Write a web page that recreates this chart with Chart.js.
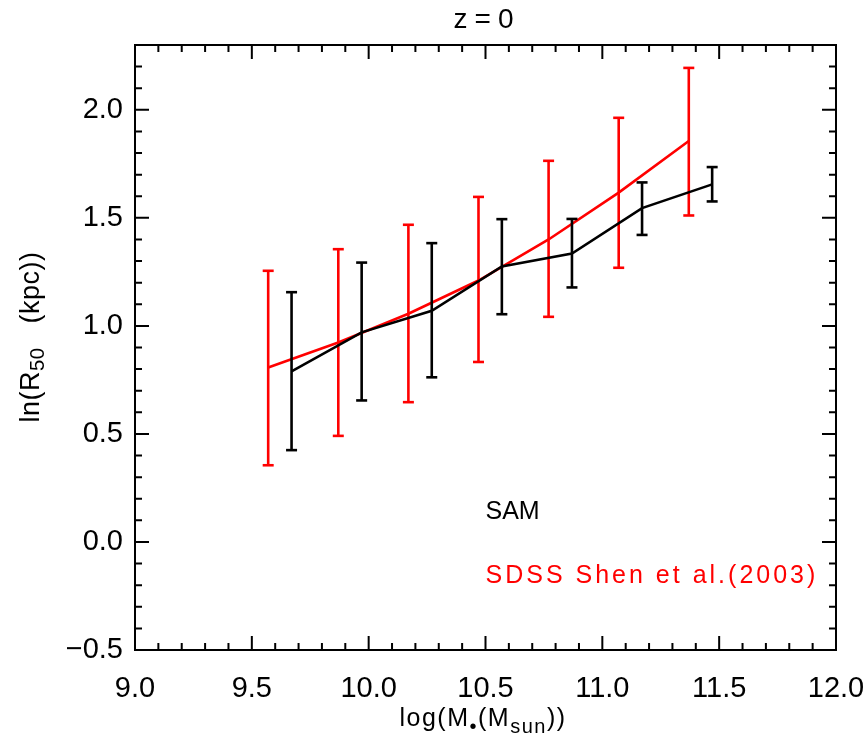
<!DOCTYPE html>
<html>
<head>
<meta charset="utf-8">
<script src="https://cdn.jsdelivr.net/npm/chart.js@4.4.1/dist/chart.umd.min.js"></script>
<style>
  html, body { margin: 0; padding: 0; background: #fff; }
  #wrap { width: 867px; height: 738px; }
</style>
</head>
<body>
<div id="wrap"><canvas id="c"></canvas></div>
<script>
// SAM model (black)
const massSam = [9.67, 9.97, 10.27, 10.57, 10.87, 11.17, 11.47];
const radiusSam = [0.79, 0.97, 1.07, 1.275, 1.335, 1.545, 1.655];
const samLow = [0.425, 0.655, 0.762, 1.054, 1.178, 1.421, 1.576];
const samHigh = [1.156, 1.293, 1.383, 1.494, 1.495, 1.664, 1.735];

// SDSS Shen et al. (2003) (red)
const massSdss = [9.57, 9.87, 10.17, 10.47, 10.77, 11.07, 11.37];
const radiusSdss = [0.807, 0.923, 1.056, 1.21, 1.40, 1.617, 1.856];
const sdssLow = [0.355, 0.491, 0.647, 0.833, 1.042, 1.269, 1.511];
const sdssHigh = [1.255, 1.355, 1.468, 1.597, 1.764, 1.963, 2.194];

const xTicks = [9.0, 9.5, 10.0, 10.5, 11.0, 11.5, 12.0];
const yTicks = [-0.5, 0.0, 0.5, 1.0, 1.5, 2.0];

const FONT = "'Liberation Sans', Arial, sans-serif";
const RED = "#ff0000";

function lineSet(xs, ys, color) {
  return {
    data: xs.map((x, i) => ({ x: x, y: ys[i] })),
    borderColor: color, borderWidth: 2.6, pointRadius: 0, fill: false, tension: 0
  };
}

function errorSets(xs, lo, hi, color) {
  return xs.map((x, i) => ({
    data: [{ x: x, y: lo[i] }, { x: x, y: hi[i] }],
    borderColor: color, borderWidth: 2.6,
    pointStyle: "line", pointRadius: 5.5, pointBorderWidth: 2.6,
    pointBorderColor: color, pointBackgroundColor: color
  }));
}

const datasets = [].concat(
  errorSets(massSam, samLow, samHigh, "#000"),
  [lineSet(massSam, radiusSam, "#000")],
  errorSets(massSdss, sdssLow, sdssHigh, RED),
  [lineSet(massSdss, radiusSdss, RED)]
);

// inward minor/major ticks on all four sides
const tickMarks = {
  id: "tickMarks",
  afterDraw(chart) {
    const ctx = chart.ctx, a = chart.chartArea;
    const sx = chart.scales.x, sy = chart.scales.y;
    ctx.save();
    ctx.strokeStyle = "#000";
    ctx.lineWidth = 2;
    ctx.beginPath();
    for (let k = 90; k <= 120; k++) {
      const px = sx.getPixelForValue(k / 10);
      const len = k % 5 === 0 ? 14 : 7;
      ctx.moveTo(px, a.bottom); ctx.lineTo(px, a.bottom - len);
      ctx.moveTo(px, a.top); ctx.lineTo(px, a.top + len);
    }
    for (let k = -5; k <= 23; k++) {
      const py = sy.getPixelForValue(k / 10);
      const len = k % 5 === 0 ? 14 : 7;
      ctx.moveTo(a.left, py); ctx.lineTo(a.left + len, py);
      ctx.moveTo(a.right, py); ctx.lineTo(a.right - len, py);
    }
    ctx.stroke();
    ctx.restore();
  }
};

function drawRuns(ctx, runs, size, sub, drop, spacing) {
  // runs: [text, isSub]; centred on current origin, baseline at 0
  ctx.letterSpacing = spacing + "px";
  let w = 0;
  runs.forEach(r => {
    ctx.font = (r[1] ? size * sub : size) + "px " + FONT;
    w += ctx.measureText(r[0]).width;
  });
  let x = -w / 2;
  runs.forEach(r => {
    ctx.font = (r[1] ? size * sub : size) + "px " + FONT;
    ctx.fillText(r[0], x, r[1] ? drop : 0);
    x += ctx.measureText(r[0]).width;
  });
}

const labels = {
  id: "labels",
  afterDraw(chart) {
    const ctx = chart.ctx, a = chart.chartArea;
    const sx = chart.scales.x, sy = chart.scales.y;
    ctx.save();
    ctx.fillStyle = "#000";
    ctx.textBaseline = "alphabetic";
    ctx.textAlign = "left";

    // title
    ctx.save();
    ctx.translate(487, 28);
    drawRuns(ctx, [["z=0", false]], 28, 1, 0, 7);
    ctx.restore();

    // x axis title
    ctx.save();
    ctx.translate(483, 726);
    drawRuns(ctx, [["log(M", false], ["\u2022", true], ["(M", false], ["sun", true], ["))", false]], 25, 0.8, 7, 1.5);
    ctx.restore();

    // y axis title
    ctx.save();
    ctx.translate(39, 337);
    ctx.rotate(-Math.PI / 2);
    drawRuns(ctx, [["ln(R", false], ["50", true], ["   (kpc))", false]], 27, 0.75, 5, 0.5);
    ctx.restore();

    // in-plot legend text
    ctx.font = "25px " + FONT;
    ctx.textBaseline = "middle";
    ctx.letterSpacing = "0px";
    ctx.fillStyle = "#000";
    ctx.fillText("SAM", sx.getPixelForValue(10.50), sy.getPixelForValue(0.137));
    ctx.letterSpacing = "3px";
    ctx.fillStyle = RED;
    ctx.fillText("SDSS Shen et al.(2003)", sx.getPixelForValue(10.50), sy.getPixelForValue(-0.157));
    ctx.restore();
  }
};

const tickFont = { family: FONT, size: 29 };
const noPad = s => { s.paddingLeft = 0; s.paddingRight = 0; s.paddingTop = 0; s.paddingBottom = 0; };

new Chart(document.getElementById("c"), {
  type: "line",
  data: { datasets: datasets },
  options: {
    responsive: true,
    maintainAspectRatio: false,
    animation: false,
    layout: { padding: 0 },
    plugins: { legend: { display: false }, tooltip: { enabled: false }, title: { display: false } },
    scales: {
      x: {
        type: "linear", position: "bottom", min: 9.0, max: 12.0,
        afterBuildTicks: s => { s.ticks = xTicks.map(v => ({ value: v })); },
        afterFit: s => { s.height = 88; noPad(s); },
        ticks: { color: "#000", font: tickFont, padding: 22, maxRotation: 0,
                 callback: v => Number(v).toFixed(1) },
        grid: { display: false, drawTicks: false },
        border: { display: true, color: "#000", width: 2 }
      },
      y: {
        type: "linear", position: "left", min: -0.5, max: 2.3,
        afterBuildTicks: s => { s.ticks = yTicks.map(v => ({ value: v })); },
        afterFit: s => { s.width = 135; noPad(s); },
        ticks: { color: "#000", font: tickFont, padding: 12,
                 callback: v => (v < 0 ? "\u2212" + Math.abs(v).toFixed(1) : Number(v).toFixed(1)) },
        grid: { display: false, drawTicks: false },
        border: { display: true, color: "#000", width: 2 }
      },
      x2: {
        type: "linear", position: "top", min: 9.0, max: 12.0,
        afterFit: s => { s.height = 45; noPad(s); },
        ticks: { display: false },
        grid: { display: false, drawTicks: false },
        border: { display: true, color: "#000", width: 2 }
      },
      y2: {
        type: "linear", position: "right", min: -0.5, max: 2.3,
        afterFit: s => { s.width = 31; noPad(s); },
        ticks: { display: false },
        grid: { display: false, drawTicks: false },
        border: { display: true, color: "#000", width: 2 }
      }
    }
  },
  plugins: [tickMarks, labels]
});
</script>
</body>
</html>
